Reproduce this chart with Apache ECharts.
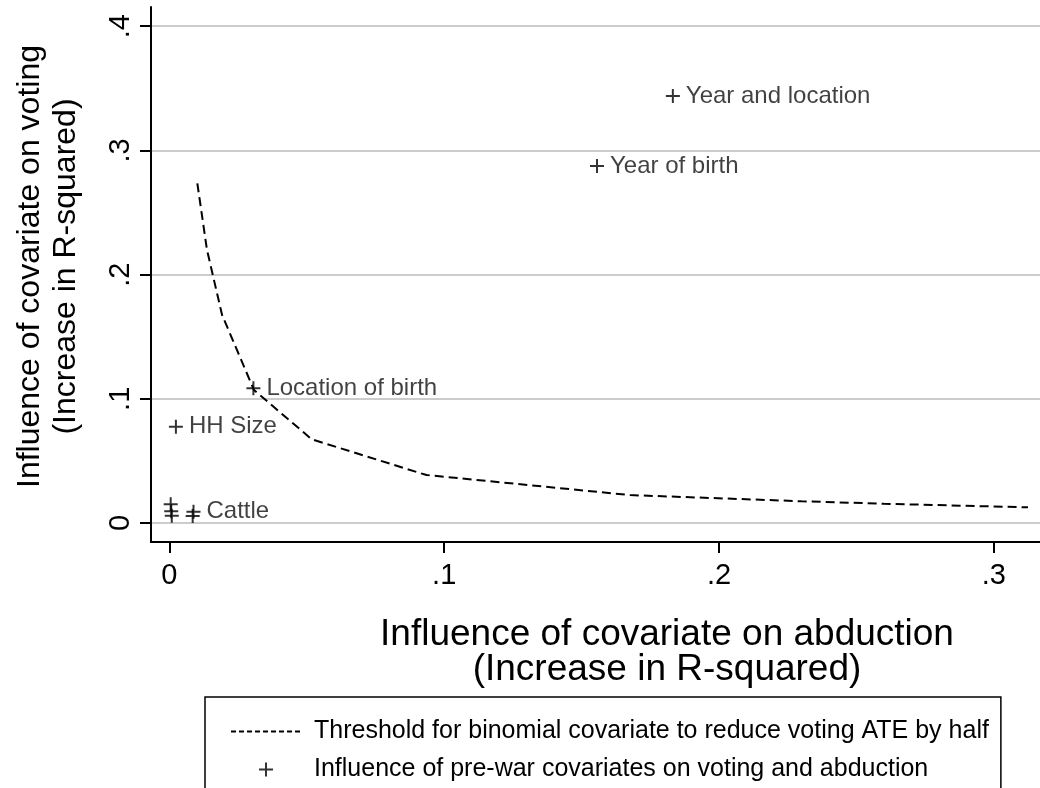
<!DOCTYPE html>
<html>
<head>
<meta charset="utf-8">
<script src="https://cdn.jsdelivr.net/npm/echarts@6/dist/echarts.min.js"></script>
<style>
  html, body { margin: 0; padding: 0; background: #fff; }
  #chart { width: 1040px; height: 788px; }
</style>
</head>
<body>
<div id="chart"></div>
<script>
// threshold curve (increase in R-squared: abduction vs voting)
var threshX = [0.0102, 0.0137, 0.0192, 0.0308, 0.0518, 0.0936, 0.1676, 0.2300, 0.2600, 0.3124];
var threshY = [0.2735, 0.2200, 0.1675, 0.1071, 0.0674, 0.0386, 0.0225, 0.0175, 0.0155, 0.0126];

// pre-war covariates
var pointLabel = ['Year and location', 'Year of birth', 'Location of birth', 'HH Size', 'Cattle', '', '', '', ''];
var pointX = [0.1832, 0.1556, 0.0306, 0.0024, 0.0088, 0.0085, 0.0005, 0.0007, 0.0009];
var pointY = [0.3438, 0.2874, 0.1085, 0.0775, 0.0091, 0.0056, 0.0151, 0.0095, 0.0058];

var xTicks = [0, 0.1, 0.2, 0.3];
var xTickLabels = ['0', '.1', '.2', '.3'];
var yTicks = [0, 0.1, 0.2, 0.3, 0.4];
var yTickLabels = ['0', '.1', '.2', '.3', '.4'];

var lineName = 'Threshold for binomial covariate to reduce voting ATE by half';
var pointName = 'Influence of pre-war covariates on voting and abduction';

var font = 'Liberation Sans, Arial, Helvetica, sans-serif';
var plus = 'path://M7,0L7,14M0,7L14,7';

function tickText(ticks, labels) {
  return function (v) {
    for (var i = 0; i < ticks.length; i++) {
      if (Math.abs(ticks[i] - v) < 1e-9) return labels[i];
    }
    return '';
  };
}

var myChart = echarts.init(document.getElementById('chart'));
myChart.setOption({
  animation: false,
  textStyle: { fontFamily: font, color: '#000' },
  grid: { left: 151, top: 7, right: -143, bottom: 246, outerBoundsMode: 'none' },
  legend: {
    left: 205,
    top: 697,
    height: 120,
    orient: 'vertical',
    padding: [22, 12, 10, 25],
    borderColor: '#000',
    borderWidth: 1.5,
    itemWidth: 70,
    itemHeight: 14,
    itemGap: 13,
    selectedMode: false,
    textStyle: { fontSize: 25, color: '#000', fontFamily: font, padding: [0, 0, 0, 8] },
    data: [
      { name: lineName, itemStyle: { opacity: 0 }, lineStyle: { type: [5, 3], width: 2 } },
      { name: pointName, icon: plus, itemStyle: { color: 'transparent', borderColor: '#000', borderWidth: 2 } }
    ]
  },
  xAxis: {
    type: 'value',
    min: -0.00666,
    max: 0.3688,
    name: 'Influence of covariate on abduction\n(Increase in R-squared)',
    nameLocation: 'middle',
    nameGap: 75,
    nameTextStyle: { fontSize: 37, lineHeight: 35, color: '#000', fontFamily: font },
    axisLine: { onZero: false, lineStyle: { color: '#000', width: 2 } },
    axisTick: { customValues: xTicks, length: 11, lineStyle: { color: '#000', width: 2 } },
    axisLabel: { customValues: xTicks, formatter: tickText(xTicks, xTickLabels), fontSize: 29, color: '#000', margin: 19 },
    splitLine: { show: false }
  },
  yAxis: {
    type: 'value',
    min: -0.0153,
    max: 0.4155,
    name: 'Influence of covariate on voting\n(Increase in R-squared)',
    nameLocation: 'middle',
    nameGap: 67,
    nameTextStyle: { fontSize: 32, lineHeight: 36, color: '#000', fontFamily: font, padding: [0, 0, 0, 16] },
    axisLine: { show: true, onZero: false, lineStyle: { color: '#000', width: 2 } },
    axisTick: { show: true, customValues: yTicks, length: 11, lineStyle: { color: '#000', width: 2 } },
    axisLabel: { customValues: yTicks, formatter: tickText(yTicks, yTickLabels), rotate: 90, fontSize: 29, color: '#000', margin: 16 },
    splitLine: { show: true, lineStyle: { color: '#cccccc', width: 2 } }
  },
  series: [
    {
      name: lineName,
      type: 'line',
      data: threshX.map(function (x, i) { return [x, threshY[i]]; }),
      symbol: 'none',
      lineStyle: { color: '#000', width: 2, type: [9, 5] },
      itemStyle: { color: '#000' },
      silent: true
    },
    {
      name: pointName,
      type: 'scatter',
      data: pointX.map(function (x, i) { return { value: [x, pointY[i]], label: { show: pointLabel[i] !== '', formatter: pointLabel[i] } }; }),
      symbol: plus,
      symbolSize: 14,
      itemStyle: { color: 'transparent', borderColor: '#000', borderWidth: 2 },
      label: { position: 'right', distance: 5, fontSize: 24, color: '#111', fontFamily: font },
      z: 3,
      silent: true
    }
  ]
});
</script>
</body>
</html>
